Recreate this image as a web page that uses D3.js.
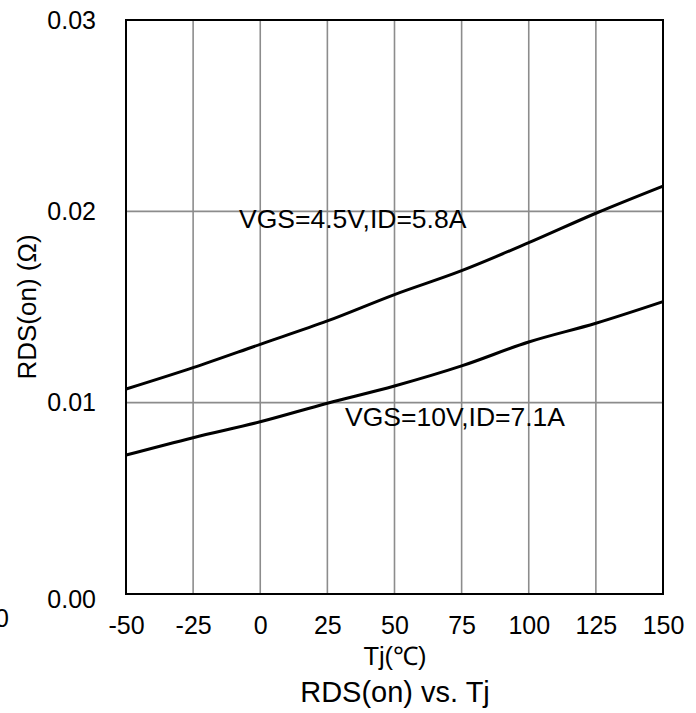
<!DOCTYPE html>
<html>
<head>
<meta charset="utf-8">
<script src="https://cdn.jsdelivr.net/npm/d3@7"></script>
<style>
  body { margin: 0; background: #fff; }
  svg text { font-family: "Liberation Sans", Arial, sans-serif; fill: #000; }
</style>
</head>
<body>
<svg id="chart"></svg>
<script>
var width = 696, height = 713;

// data
var tj = [-50, -25, 0, 25, 50, 75, 100, 125, 150];
var rds45 = [0.01071, 0.01183, 0.01305, 0.01427, 0.01565, 0.01690, 0.01836, 0.01990, 0.02132];
var rds10 = [0.00726, 0.00817, 0.00900, 0.00997, 0.01087, 0.01192, 0.01317, 0.01415, 0.01528];
var xTicks = [-50, -25, 0, 25, 50, 75, 100, 125, 150];
var yTicks = [0, 0.01, 0.02, 0.03];
var seriesLabels = ["VGS=4.5V,ID=5.8A", "VGS=10V,ID=7.1A"];

var pLeft = 126, pRight = 663, pTop = 20, pBottom = 594;

var svg = d3.select('#chart').attr('width', width).attr('height', height);

var xScale = d3.scaleLinear().domain([-50, 150]).range([pLeft, pRight]);
var yScale = d3.scaleLinear().domain([0, 0.03]).range([pBottom, pTop]);

// grid
svg.append('g').selectAll('line').data(xTicks.slice(1, -1)).enter().append('line')
  .attr('x1', d => xScale(d)).attr('x2', d => xScale(d))
  .attr('y1', pTop).attr('y2', pBottom)
  .attr('stroke', '#8c8c8c').attr('stroke-width', 1.6);
svg.append('g').selectAll('line').data(yTicks.slice(1, -1)).enter().append('line')
  .attr('x1', pLeft).attr('x2', pRight)
  .attr('y1', d => yScale(d)).attr('y2', d => yScale(d))
  .attr('stroke', '#8c8c8c').attr('stroke-width', 1.6);

// axes (labels only, frame drawn below)
var xAxis = d3.axisBottom(xScale).tickValues(xTicks).tickSize(0).tickPadding(22)
  .tickFormat(d => String(d));
var gx = svg.append('g').attr('transform', 'translate(0,' + pBottom + ')').call(xAxis);
gx.select('.domain').remove();
gx.selectAll('text').attr('font-size', 25).attr('font-family', '"Liberation Sans", Arial, sans-serif');

var yAxis = d3.axisLeft(yScale).tickValues(yTicks).tickSize(0).tickPadding(30)
  .tickFormat(d3.format('.2f'));
var gy = svg.append('g').attr('transform', 'translate(' + pLeft + ',0)').call(yAxis);
gy.select('.domain').remove();
gy.selectAll('text').attr('font-size', 25).attr('font-family', '"Liberation Sans", Arial, sans-serif');
gy.selectAll('.tick').filter(d => d === 0).select('text').attr('y', 5);

// frame
svg.append('rect').attr('x', pLeft).attr('y', pTop)
  .attr('width', pRight - pLeft).attr('height', pBottom - pTop)
  .attr('fill', 'none').attr('stroke', '#000').attr('stroke-width', 2);

// curves
var line = d3.line().x((d, i) => xScale(tj[i])).y(d => yScale(d)).curve(d3.curveMonotoneX);
[rds45, rds10].forEach(function(s) {
  svg.append('path').attr('d', line(s))
    .attr('fill', 'none').attr('stroke', '#000').attr('stroke-width', 3);
});

// annotations
svg.append('text').attr('x', 239).attr('y', 228).attr('font-size', 26.5).text(seriesLabels[0]);
svg.append('text').attr('x', 345).attr('y', 426).attr('font-size', 26.5).text(seriesLabels[1]);

// stray label at left edge
svg.append('text').attr('x', 9).attr('y', 627).attr('text-anchor', 'end').attr('font-size', 25).text('0');

// titles
svg.append('text').attr('x', 395).attr('y', 665).attr('text-anchor', 'middle').attr('font-size', 25.5).text('Tj(℃)');
svg.append('text').attr('x', 395).attr('y', 702).attr('text-anchor', 'middle').attr('font-size', 29).text('RDS(on) vs. Tj');
svg.append('text').attr('transform', 'translate(36,307) rotate(-90)')
  .attr('text-anchor', 'middle').attr('font-size', 26).text('RDS(on) (Ω)');
</script>
</body>
</html>
